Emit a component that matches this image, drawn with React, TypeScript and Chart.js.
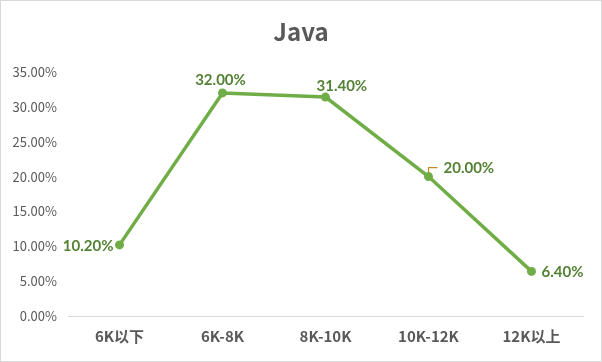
import React, { useEffect, useRef } from "react";
import { Chart, registerables } from "chart.js";

Chart.register(...registerables);

const categories = ["6K以下", "6K-8K", "8K-10K", "10K-12K", "12K以上"];
const shares = [10.2, 32.0, 31.4, 20.0, 6.4];
const yTicks = [0, 5, 10, 15, 20, 25, 30, 35];
const titleText = "Java";

// label placement: [dx, dy, textAlign, leader]
const labelPlacement: [number, number, CanvasTextAlign, boolean][] = [
  [-6, 1, "right", false],
  [-2, -13, "center", false],
  [-9, -11, "left", false],
  [15, -8, "left", true],
  [10, 1, "left", false],
];

const GREEN = "#70AD47";
const LABEL_GREEN = "#548235";
const GREY_TEXT = "#595959";

const labelPlugin = {
  id: "valueLabels",
  afterDatasetsDraw(chart: any) {
    const ctx = chart.ctx;
    const meta = chart.getDatasetMeta(0);
    ctx.save();
    ctx.font = "bold 15px Lato";
    ctx.fillStyle = LABEL_GREEN;
    ctx.textBaseline = "middle";
    meta.data.forEach((pt: any, i: number) => {
      const [dx, dy, align, leader] = labelPlacement[i];
      const v = shares[i];
      if (leader) {
        ctx.save();
        ctx.strokeStyle = "#C9862B";
        ctx.lineWidth = 1.2;
        ctx.beginPath();
        ctx.moveTo(pt.x, pt.y - 4);
        ctx.lineTo(pt.x, pt.y - 9);
        ctx.lineTo(pt.x + 9, pt.y - 9);
        ctx.stroke();
        ctx.restore();
      }
      ctx.textAlign = align;
      ctx.fillText(v.toFixed(2) + "%", pt.x + dx, pt.y + dy);
    });
    ctx.restore();
  },
};

const frameTitlePlugin = {
  id: "frameTitle",
  beforeDraw(chart: any) {
    const ctx = chart.ctx;
    ctx.save();
    ctx.fillStyle = "#ffffff";
    ctx.fillRect(0, 0, chart.width, chart.height);
    ctx.strokeStyle = "#D9D9D9";
    ctx.lineWidth = 1;
    ctx.strokeRect(0.5, 0.5, chart.width - 1, chart.height - 1);
    ctx.fillStyle = GREY_TEXT;
    ctx.font = "bold 24px 'Noto Sans CJK SC'";
    ctx.textAlign = "center";
    ctx.textBaseline = "alphabetic";
    ctx.fillText(titleText, chart.width / 2, 41);
    ctx.restore();
  },
};

export default function App() {
  const ref = useRef<HTMLCanvasElement>(null);
  useEffect(() => {
    document.body.style.margin = "0";
    const chart = new Chart(ref.current!, {
      type: "line",
      data: {
        labels: categories,
        datasets: [
          {
            data: shares,
            borderColor: GREEN,
            backgroundColor: GREEN,
            borderWidth: 3.5,
            pointRadius: 4.5,
            pointBackgroundColor: GREEN,
            pointBorderWidth: 0,
            tension: 0,
          },
        ],
      },
      options: {
        responsive: false,
        animation: false,
        layout: { padding: { top: 72, right: 19, bottom: 0, left: 0 } },
        plugins: {
          legend: { display: false },
          tooltip: { enabled: false },
          title: { display: false },
        },
        scales: {
          x: {
            offset: true,
            grid: { display: false, drawTicks: false },
            border: { display: true, color: "#D9D9D9", width: 1 },
            ticks: {
              color: GREY_TEXT,
              font: { family: "Noto Sans CJK SC", size: 15, weight: "bold" },
              padding: 11,
              maxRotation: 0,
            },
            afterFit(scale: any) {
              scale.height = 46;
            },
          },
          y: {
            min: 0,
            max: 35,
            grid: { display: false, drawTicks: false },
            border: { display: false },
            afterBuildTicks(scale: any) {
              scale.ticks = yTicks.map((v) => ({ value: v }));
            },
            ticks: {
              color: GREY_TEXT,
              font: { family: "Noto Sans CJK SC", size: 13 },
              padding: 11,
              callback: (v: any) => Number(v).toFixed(2) + "%",
            },
            afterFit(scale: any) {
              scale.width = 68;
            },
          },
        },
      },
      plugins: [frameTitlePlugin, labelPlugin],
    });
    return () => chart.destroy();
  }, []);
  return (
    <div style={{ width: 602, height: 362 }}>
      <canvas ref={ref} width={602} height={362} style={{ display: "block" }} />
    </div>
  );
}
